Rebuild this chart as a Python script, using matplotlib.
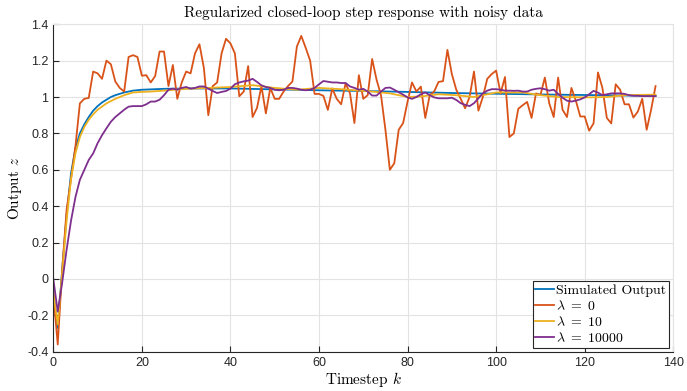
import numpy as np
import matplotlib
matplotlib.use("Agg")
import matplotlib.pyplot as plt
from matplotlib.ticker import FuncFormatter

plt.rcParams['mathtext.fontset'] = 'cm'
plt.rcParams['axes.unicode_minus'] = False
plt.rcParams['font.family'] = ['Liberation Sans', 'DejaVu Sans']

# lambda = 0 (noisy), one value per timestep k = 0..136
lam0 = [-0.08, -0.36, 0.05, 0.38, 0.55, 0.73, 0.965, 0.99, 0.995, 1.14,
        1.13, 1.10, 1.20, 1.18, 1.085, 1.05, 1.03, 1.22, 1.23, 1.22,
        1.117, 1.12, 1.08, 1.115, 1.25, 1.25, 1.06, 1.176, 0.99, 1.08,
        1.14, 1.13, 1.24, 1.29, 1.16, 0.90, 1.06, 1.08, 1.24, 1.32,
        1.295, 1.24, 1.004, 1.03, 1.17, 0.89, 0.94, 1.06, 0.91, 1.05,
        0.99, 0.99, 1.03, 1.06, 1.085, 1.277, 1.336, 1.27, 1.20, 1.017,
        1.017, 1.006, 0.929, 1.047, 0.99, 0.96, 1.075, 1.02, 0.857, 1.12,
        0.99, 1.01, 1.209, 1.095, 1.01, 0.82, 0.60, 0.636, 0.82, 0.857,
        0.975, 1.08, 1.03, 1.057, 0.885, 1.01, 1.03, 1.083, 1.087, 1.259,
        1.126, 1.04, 0.99, 0.938, 1.0, 1.14, 0.925, 1.0, 1.1, 1.126,
        1.145, 1.02, 1.11, 0.78, 0.80, 0.935, 0.955, 0.973, 0.885, 1.02,
        1.01, 1.107, 0.965, 0.89, 1.107, 0.93, 0.89, 1.05, 0.98, 0.893,
        0.893, 0.815, 0.855, 1.135, 1.05, 0.885, 0.855, 1.07, 1.04, 0.96,
        0.96, 0.887, 0.92, 0.99, 0.82, 0.93, 1.06]

# lambda = 10000, one value per timestep
lam10000 = [0.0, -0.18, -0.02, 0.16, 0.32, 0.45, 0.545, 0.60, 0.654, 0.69,
            0.746, 0.79, 0.828, 0.864, 0.89, 0.91, 0.93, 0.947, 0.95, 0.95,
            0.95, 0.96, 0.975, 0.975, 0.985, 1.01, 1.04, 1.046, 1.04, 1.05,
            1.055, 1.046, 1.05, 1.058, 1.058, 1.046, 1.033, 1.022, 1.028, 1.033,
            1.046, 1.07, 1.08, 1.086, 1.09, 1.10, 1.083, 1.064, 1.055, 1.05,
            1.04, 1.037, 1.04, 1.05, 1.05, 1.046, 1.04, 1.037, 1.04, 1.05,
            1.07, 1.088, 1.084, 1.08, 1.08, 1.077, 1.077, 1.058, 1.05, 1.04,
            1.045, 1.03, 1.008, 1.008, 1.03, 1.05, 1.052, 1.04, 1.026, 1.013,
            0.998, 0.99, 1.0, 1.015, 1.025, 1.01, 0.998, 0.993, 0.993, 0.993,
            0.996, 0.984, 0.966, 0.957, 0.95, 0.966, 0.993, 1.02, 1.035, 1.043,
            1.043, 1.04, 1.035, 1.035, 1.034, 1.035, 1.03, 1.03, 1.04, 1.045,
            1.048, 1.043, 1.035, 1.04, 1.017, 0.996, 0.98, 0.975, 0.98, 0.987,
            0.998, 1.015, 1.034, 1.024, 1.01, 1.015, 1.02, 1.02, 1.02, 1.017,
            1.01, 1.007, 1.007, 1.005, 1.005, 1.005, 1.005]

# simulated output (smooth), read at selected timesteps
sim_k = [0, 1, 2, 3, 4, 5, 6, 7, 8, 9, 10, 11, 12, 13, 14, 16, 18, 20, 25,
         30, 40, 50, 60, 70, 80, 90, 100, 110, 120, 130, 136]
sim_y = [-0.08, -0.27, 0.05, 0.35, 0.58, 0.72, 0.80, 0.85, 0.89, 0.925, 0.95,
         0.97, 0.985, 1.0, 1.01, 1.025, 1.035, 1.04, 1.045, 1.047, 1.047,
         1.042, 1.037, 1.033, 1.028, 1.022, 1.018, 1.014, 1.011, 1.008, 1.006]

# lambda = 10, read at selected timesteps
lam10_k = [0, 1, 2, 3, 4, 5, 6, 7, 8, 9, 10, 12, 14, 16, 18, 20, 22, 25, 30,
           35, 40, 45, 50, 55, 60, 65, 72, 76, 80, 83, 87, 91, 95, 100, 106,
           110, 114, 121, 125, 129, 136]
lam10_y = [-0.08, -0.25, 0.03, 0.32, 0.55, 0.69, 0.78, 0.835, 0.875, 0.905,
           0.93, 0.965, 0.99, 1.01, 1.025, 1.028, 1.03, 1.035, 1.045, 1.05,
           1.055, 1.065, 1.05, 1.04, 1.05, 1.043, 1.03, 1.02, 1.0, 1.003,
           1.015, 1.01, 1.0, 1.025, 1.025, 1.01, 1.0, 0.998, 1.0, 1.01, 1.013]

x_ticks = [0, 20, 40, 60, 80, 100, 120, 140]
y_ticks = [-0.4, -0.2, 0, 0.2, 0.4, 0.6, 0.8, 1, 1.2, 1.4]

fig = plt.figure(figsize=(6.87, 3.91), dpi=100)
ax = fig.add_axes([0.0776, 0.1005, 0.9024, 0.8375])

k = np.arange(len(lam0))
ax.plot(sim_k, sim_y, color='#0072BD', lw=1.3, label='Simulated Output')
ax.plot(k, lam0, color='#D95319', lw=1.3, label=r'$\lambda\ =\ 0$')
ax.plot(lam10_k, lam10_y, color='#EDB120', lw=1.3, label=r'$\lambda\ =\ 10$')
ax.plot(np.arange(len(lam10000)), lam10000, color='#7E2F8E', lw=1.3,
        label=r'$\lambda\ =\ 10000$')

ax.set_xlim(0, 140)
ax.set_ylim(-0.4, 1.4)
ax.set_xticks(x_ticks)
ax.set_yticks(y_ticks)
ax.yaxis.set_major_formatter(FuncFormatter(lambda v, p: '%g' % round(v, 2)))
ax.grid(True, color='#e3e3e3', lw=0.8)
ax.set_axisbelow(True)
ax.tick_params(direction='in', length=4, width=0.8, colors='#262626',
               labelsize=9, top=False, right=False)
for s in ['left', 'bottom']:
    ax.spines[s].set_color('#262626')
    ax.spines[s].set_linewidth(0.8)
for s in ['top', 'right']:
    ax.spines[s].set_color('#e3e3e3')
    ax.spines[s].set_linewidth(0.8)

ax.set_title('Regularized closed-loop step response with noisy data',
             fontfamily='cmr10', fontsize=11, pad=5)
ax.set_xlabel('Timestep $k$', fontfamily='cmr10', fontsize=11, labelpad=1)
ax.set_ylabel('Output $z$', fontfamily='cmr10', fontsize=11, labelpad=2)

leg = ax.legend(loc='lower right', prop={'family': 'cmr10', 'size': 10},
                fancybox=False, edgecolor='#262626', framealpha=1,
                handlelength=1.3, handletextpad=0.2, labelspacing=0.15,
                borderpad=0.2, borderaxespad=0.3)
leg.get_frame().set_linewidth(0.8)

fig.savefig('out.png', dpi=100)
